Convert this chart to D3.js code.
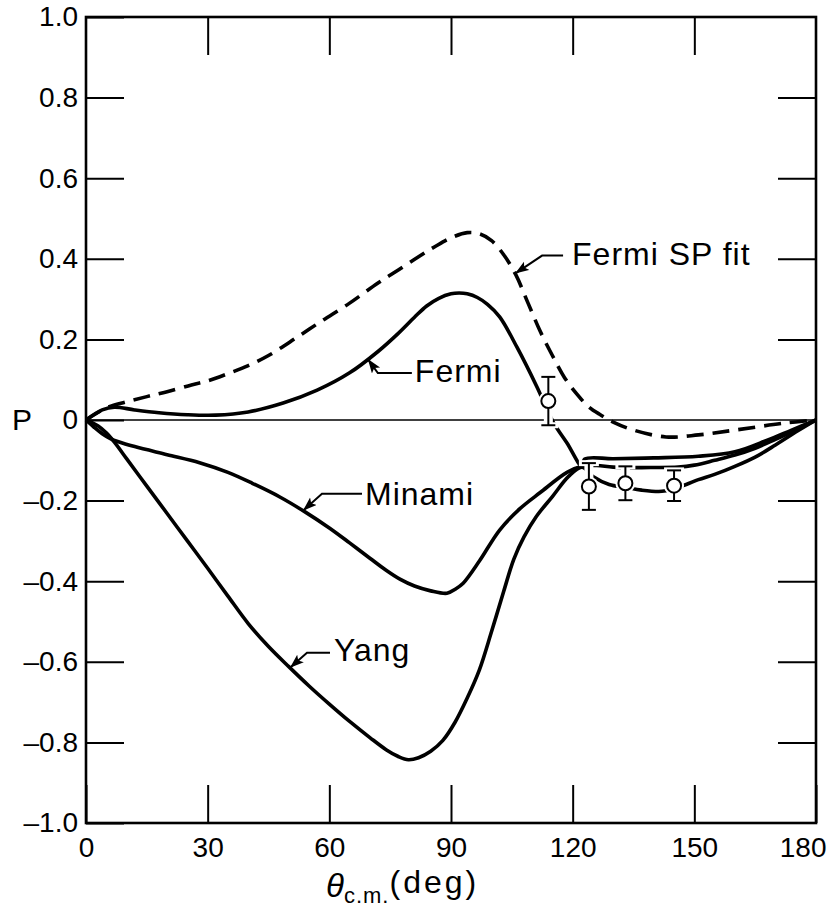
<!DOCTYPE html>
<html>
<head>
<meta charset="utf-8">
<script src="https://cdn.jsdelivr.net/npm/d3@7"></script>
<style>
  body { margin: 0; background: #fff; }
  svg { font-family: "Liberation Sans", Arial, sans-serif; }
</style>
</head>
<body>
<div id="chart"></div>
<script>
// tick values and labels
var degTicks = [0, 30, 60, 90, 120, 150, 180];
var pTicks = [-1, -0.8, -0.6, -0.4, -0.2, 0, 0.2, 0.4, 0.6, 0.8, 1];
var pTickLabels = ["–1.0", "–0.8", "–0.6", "–0.4", "–0.2", "0", "0.2", "0.4", "0.6", "0.8", "1.0"];

// Fermi SP fit (dashed)
var fermiSpDeg = [0, 5, 10, 15, 20, 26, 30, 35, 40, 45, 52, 58, 65, 72, 77, 82, 86, 90, 94, 97, 100, 103, 106, 109, 112, 115, 118, 121, 124, 127, 130, 135, 143, 151, 160, 172, 180];
var fermiSpP   = [0, 0.03, 0.045, 0.058, 0.07, 0.087, 0.097, 0.115, 0.135, 0.16, 0.205, 0.245, 0.29, 0.34, 0.372, 0.405, 0.43, 0.452, 0.465, 0.462, 0.445, 0.41, 0.36, 0.29, 0.22, 0.16, 0.105, 0.065, 0.032, 0.012, -0.005, -0.025, -0.042, -0.037, -0.025, -0.008, 0];

// Fermi (solid)
var fermiDeg = [0, 4, 7, 12, 18, 25, 32, 40, 48.6, 57, 65, 72, 77, 81, 84, 87, 90, 92, 94, 96.5, 99, 102, 106.3, 111.2, 115.2, 118.6, 122.3, 123, 130, 140, 151, 160, 168, 174, 180];
var fermiP   = [0, 0.025, 0.032, 0.025, 0.018, 0.013, 0.012, 0.02, 0.042, 0.074, 0.117, 0.17, 0.215, 0.255, 0.283, 0.302, 0.313, 0.315, 0.313, 0.304, 0.287, 0.256, 0.18, 0.082, -0.005, -0.057, -0.115, -0.097, -0.096, -0.094, -0.09, -0.079, -0.05, -0.025, 0];

// Minami
var minamiDeg = [0, 2, 4, 6, 8, 12, 20, 28, 35, 41, 47.8, 54, 60, 65, 70, 74, 77.4, 81, 85, 89, 91, 93, 97, 102, 107, 112, 118.6, 122.3, 126, 130, 140, 146, 150, 155, 160, 165, 170, 175, 180];
var minamiP   = [0, -0.018, -0.034, -0.046, -0.054, -0.066, -0.086, -0.106, -0.13, -0.157, -0.191, -0.228, -0.268, -0.305, -0.343, -0.373, -0.395, -0.412, -0.424, -0.43, -0.42, -0.405, -0.35, -0.273, -0.22, -0.18, -0.13, -0.115, -0.113, -0.117, -0.118, -0.117, -0.112, -0.1, -0.087, -0.07, -0.048, -0.025, 0];

// Yang
var yangDeg = [0, 3, 5, 7, 10, 15, 20, 25, 30, 35, 40, 45, 50, 55, 60, 65, 70, 74, 77, 79.5, 82, 85, 88, 91, 94, 97, 100, 103, 105.5, 108, 111, 115, 119, 122.3, 125, 129, 133, 137, 142, 145, 148, 151, 155, 160, 165, 170, 175, 180];
var yangP   = [0, -0.015, -0.032, -0.055, -0.096, -0.164, -0.232, -0.3, -0.368, -0.437, -0.505, -0.562, -0.612, -0.66, -0.705, -0.748, -0.788, -0.818, -0.835, -0.843, -0.838, -0.822, -0.795, -0.75, -0.69, -0.62, -0.525, -0.425, -0.345, -0.29, -0.24, -0.19, -0.14, -0.117, -0.14, -0.16, -0.167, -0.174, -0.177, -0.17, -0.16, -0.148, -0.135, -0.115, -0.092, -0.062, -0.03, 0];

// measured points with error bars
var dataDeg = [114, 124, 133, 145];
var dataP   = [0.047, -0.165, -0.157, -0.163];
var dataErr = [0.06, 0.058, 0.042, 0.038];

// curve labels and the angle where each arrow touches its curve
var labelNames = ["Fermi SP fit", "Fermi", "Minami", "Yang"];
var labelDeg   = [105.8, 69.5, 53.5, 50.3];

var svgWidth = 829;
var svgHeight = 913;
var margin = { top: 17, right: 13, bottom: 90, left: 86 };
var width = svgWidth - margin.left - margin.right;
var height = svgHeight - margin.top - margin.bottom;

var svg = d3.select("#chart")
  .append("svg")
  .attr("width", svgWidth)
  .attr("height", svgHeight);

var g = svg.append("g")
  .attr("transform", `translate(${margin.left}, ${margin.top})`);

var x = d3.scaleLinear().domain([0, 180]).range([0, width]);
var y = d3.scaleLinear().domain([-1, 1]).range([height, 0]);

var tickLen = 38;

// axes: ticks point inward on all four sides
var bottomAxis = g.append("g")
  .attr("transform", `translate(0, ${height})`)
  .call(d3.axisBottom(x).tickValues(degTicks).tickSize(-tickLen).tickSizeOuter(0).tickPadding(14));
var topAxis = g.append("g")
  .call(d3.axisTop(x).tickValues(degTicks.slice(1, -1)).tickSize(-tickLen).tickSizeOuter(0).tickFormat(""));
var leftAxis = g.append("g")
  .call(d3.axisLeft(y).tickValues(pTicks).tickSize(-tickLen).tickSizeOuter(0).tickPadding(8)
    .tickFormat((d, i) => pTickLabels[i]));
var rightAxis = g.append("g")
  .attr("transform", `translate(${width}, 0)`)
  .call(d3.axisRight(y).tickValues(pTicks.slice(1, -1).filter(d => d !== 0)).tickSize(-tickLen).tickSizeOuter(0).tickFormat(""));

[bottomAxis, topAxis, leftAxis, rightAxis].forEach(function(a) {
  a.select(".domain").remove();
  a.selectAll(".tick line").attr("stroke", "#000").attr("stroke-width", 2);
  a.selectAll(".tick text").attr("fill", "#000").attr("font-size", 28);
});
// the 180 label would run off the page, pull it in like the original
bottomAxis.selectAll(".tick text").filter(d => d === 180)
  .attr("text-anchor", "end").attr("x", 10);

// zero line
g.append("line")
  .attr("x1", 0).attr("x2", width)
  .attr("y1", y(0)).attr("y2", y(0))
  .attr("stroke", "#000").attr("stroke-width", 1.6);

// frame
g.append("rect")
  .attr("width", width).attr("height", height)
  .attr("fill", "none").attr("stroke", "#000").attr("stroke-width", 2.6);

// curves
var line = d3.line()
  .x(d => x(d[0]))
  .y(d => y(d[1]))
  .curve(d3.curveCatmullRom.alpha(0.5));

function pairs(xs, ys) { return xs.map((v, i) => [v, ys[i]]); }

var series = [
  { xs: fermiSpDeg, ys: fermiSpP, dash: "17,9" },
  { xs: fermiDeg, ys: fermiP, dash: null },
  { xs: minamiDeg, ys: minamiP, dash: null },
  { xs: yangDeg, ys: yangP, dash: null }
];

series.forEach(function(s) {
  g.append("path")
    .datum(pairs(s.xs, s.ys))
    .attr("d", line)
    .attr("fill", "none")
    .attr("stroke", "#000")
    .attr("stroke-width", 3.6)
    .attr("stroke-dasharray", s.dash);
});

// data points: white halo first so the curves break around them
var capW = 7;
var pts = g.append("g").selectAll("g")
  .data(dataDeg.map((d, i) => ({ deg: d, p: dataP[i], e: dataErr[i] })))
  .enter().append("g");

pts.append("line")
  .attr("x1", d => x(d.deg)).attr("x2", d => x(d.deg))
  .attr("y1", d => y(d.p + d.e) - 2).attr("y2", d => y(d.p - d.e) + 2)
  .attr("stroke", "#fff").attr("stroke-width", 9);
pts.selectAll(".halo-cap")
  .data(d => [[d.deg, d.p + d.e], [d.deg, d.p - d.e]])
  .enter().append("line")
  .attr("x1", d => x(d[0]) - capW - 3).attr("x2", d => x(d[0]) + capW + 3)
  .attr("y1", d => y(d[1])).attr("y2", d => y(d[1]))
  .attr("stroke", "#fff").attr("stroke-width", 6);
pts.append("circle")
  .attr("cx", d => x(d.deg)).attr("cy", d => y(d.p))
  .attr("r", 10).attr("fill", "#fff");

pts.append("line")
  .attr("x1", d => x(d.deg)).attr("x2", d => x(d.deg))
  .attr("y1", d => y(d.p + d.e)).attr("y2", d => y(d.p - d.e))
  .attr("stroke", "#000").attr("stroke-width", 2);
pts.selectAll(".cap")
  .data(d => [[d.deg, d.p + d.e], [d.deg, d.p - d.e]])
  .enter().append("line")
  .attr("x1", d => x(d[0]) - capW).attr("x2", d => x(d[0]) + capW)
  .attr("y1", d => y(d[1])).attr("y2", d => y(d[1]))
  .attr("stroke", "#000").attr("stroke-width", 2);
pts.append("circle")
  .attr("cx", d => x(d.deg)).attr("cy", d => y(d.p))
  .attr("r", 7).attr("fill", "#fff")
  .attr("stroke", "#000").attr("stroke-width", 2);

// labels with arrows
svg.append("defs").append("marker")
  .attr("id", "head")
  .attr("markerUnits", "userSpaceOnUse")
  .attr("markerWidth", 16).attr("markerHeight", 12)
  .attr("refX", 14).attr("refY", 5)
  .attr("orient", "auto")
  .append("path")
  .attr("d", "M0,0 L14,5 L0,10 L3,5 Z")
  .attr("fill", "#000");

function valueAt(xs, ys, d) {
  var i = d3.bisectLeft(xs, d);
  if (i <= 0) return ys[0];
  var t = (d - xs[i - 1]) / (xs[i] - xs[i - 1]);
  return ys[i - 1] + t * (ys[i] - ys[i - 1]);
}

// elbow, line end and text offsets from the arrow tip (pixels)
var labelOffsets = [
  { ex: 27, ey: -18, lx: 48, tx: 57, ty: -9 },
  { ex: 10, ey: 14, lx: 44, tx: 47, ty: 23 },
  { ex: 19, ey: -17, lx: 59, tx: 62, ty: -6 },
  { ex: 17, ey: -15, lx: 40, tx: 44, ty: -7 }
];

labelNames.forEach(function(name, i) {
  var s = series[i];
  var tx = x(labelDeg[i]);
  var ty = y(valueAt(s.xs, s.ys, labelDeg[i]));
  var o = labelOffsets[i];
  g.append("path")
    .attr("d", `M${tx + o.lx},${ty + o.ey} L${tx + o.ex},${ty + o.ey} L${tx},${ty}`)
    .attr("fill", "none")
    .attr("stroke", "#000")
    .attr("stroke-width", 2)
    .attr("marker-end", "url(#head)");
  g.append("text")
    .attr("x", tx + o.tx)
    .attr("y", ty + o.ty)
    .attr("font-size", 32)
    .attr("letter-spacing", 1)
    .text(name);
});

// axis titles
svg.append("text")
  .attr("x", 12)
  .attr("y", y(0) + margin.top + 10)
  .attr("font-size", 30)
  .text("P");

var xTitle = svg.append("text")
  .attr("x", 326)
  .attr("y", 897)
  .attr("font-size", 32);
xTitle.append("tspan").attr("font-style", "italic").attr("font-size", 33).text("θ");
xTitle.append("tspan").attr("font-size", 22).attr("letter-spacing", 1).attr("dy", 6).text("c.m.");
xTitle.append("tspan").attr("letter-spacing", 3).attr("dy", -10).text("(deg)");
</script>
</body>
</html>
